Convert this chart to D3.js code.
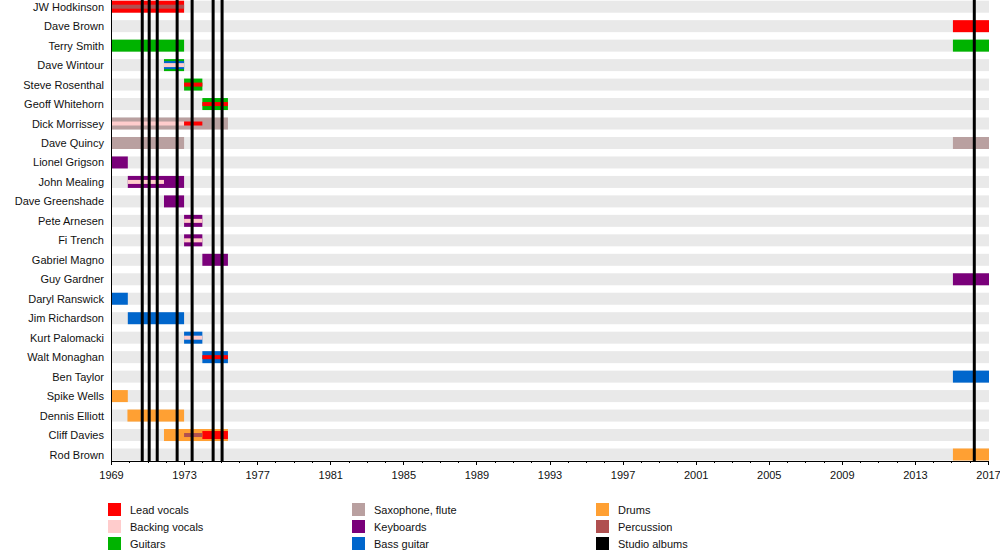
<!DOCTYPE html>
<html>
<head>
    <title>If - members timeline</title>
    <script src="https://d3js.org/d3.v7.min.js"></script>
    <style>
        body { margin: 0; background: #fff; }
        text { font-family: "Liberation Sans", Arial, sans-serif; font-size: 11px; fill: #111; }
        .axis path, .axis line { stroke: #000; shape-rendering: crispEdges; }
        .axis text { font-size: 11px; fill: #111; }
    </style>
</head>
<body>
<script>
    // band members, top to bottom
    var members = ["JW Hodkinson", "Dave Brown", "Terry Smith", "Dave Wintour", "Steve Rosenthal",
        "Geoff Whitehorn", "Dick Morrissey", "Dave Quincy", "Lionel Grigson", "John Mealing",
        "Dave Greenshade", "Pete Arnesen", "Fi Trench", "Gabriel Magno", "Guy Gardner",
        "Daryl Ranswick", "Jim Richardson", "Kurt Palomacki", "Walt Monaghan", "Ben Taylor",
        "Spike Wells", "Dennis Elliott", "Cliff Davies", "Rod Brown"];

    var roles = ["Lead vocals", "Backing vocals", "Guitars", "Saxophone, flute", "Keyboards",
        "Bass guitar", "Drums", "Percussion", "Studio albums"];
    var roleColors = ["#ff0000", "#ffcccc", "#00b300", "#b9a0a0", "#7a007a",
        "#0066cc", "#ffa033", "#b05050", "#000000"];

    // studio album release dates (decimal years)
    var albums = [1970.71, 1971.09, 1971.53, 1972.62, 1973.44, 1974.59, 1975.08, 2016.25];

    // [member, role, from, to, layer]  layer 0 = main role, 1 = second, 2 = third
    var periods = [
        ["JW Hodkinson", "Lead vocals", 1969, 1973, 0],
        ["JW Hodkinson", "Percussion", 1969, 1973, 2],
        ["Dave Brown", "Lead vocals", 2015.08, 2017, 0],
        ["Terry Smith", "Guitars", 1969, 1973, 0],
        ["Terry Smith", "Guitars", 2015.08, 2017, 0],
        ["Dave Wintour", "Guitars", 1971.9, 1973, 0],
        ["Dave Wintour", "Bass guitar", 1971.9, 1973, 1],
        ["Dave Wintour", "Backing vocals", 1971.9, 1973, 2],
        ["Steve Rosenthal", "Guitars", 1973, 1974, 0],
        ["Steve Rosenthal", "Lead vocals", 1973, 1974, 2],
        ["Geoff Whitehorn", "Guitars", 1974, 1975.4, 0],
        ["Geoff Whitehorn", "Lead vocals", 1974, 1975.4, 2],
        ["Dick Morrissey", "Saxophone, flute", 1969, 1975.4, 0],
        ["Dick Morrissey", "Backing vocals", 1969, 1973, 2],
        ["Dick Morrissey", "Lead vocals", 1973, 1974, 2],
        ["Dave Quincy", "Saxophone, flute", 1969, 1973, 0],
        ["Dave Quincy", "Saxophone, flute", 2015.08, 2017, 0],
        ["Lionel Grigson", "Keyboards", 1969, 1969.92, 0],
        ["John Mealing", "Keyboards", 1969.92, 1973, 0],
        ["John Mealing", "Backing vocals", 1969.92, 1971.9, 2],
        ["Dave Greenshade", "Keyboards", 1971.9, 1973, 0],
        ["Pete Arnesen", "Keyboards", 1973, 1974, 0],
        ["Pete Arnesen", "Backing vocals", 1973, 1974, 2],
        ["Fi Trench", "Keyboards", 1973, 1974, 0],
        ["Fi Trench", "Backing vocals", 1973, 1974, 2],
        ["Gabriel Magno", "Keyboards", 1974, 1975.4, 0],
        ["Guy Gardner", "Keyboards", 2015.08, 2017, 0],
        ["Daryl Ranswick", "Bass guitar", 1969, 1969.92, 0],
        ["Jim Richardson", "Bass guitar", 1969.92, 1973, 0],
        ["Kurt Palomacki", "Bass guitar", 1973, 1974, 0],
        ["Kurt Palomacki", "Backing vocals", 1973, 1974, 2],
        ["Walt Monaghan", "Bass guitar", 1974, 1975.4, 0],
        ["Walt Monaghan", "Lead vocals", 1974, 1975.4, 2],
        ["Ben Taylor", "Bass guitar", 2015.08, 2017, 0],
        ["Spike Wells", "Drums", 1969, 1969.92, 0],
        ["Dennis Elliott", "Drums", 1969.9, 1973, 0],
        ["Cliff Davies", "Drums", 1971.9, 1975.4, 0],
        ["Cliff Davies", "Percussion", 1973, 1974, 2],
        ["Cliff Davies", "Lead vocals", 1974, 1975.4, 1],
        ["Rod Brown", "Drums", 2015.08, 2017, 0]
    ];

    var width = 1000, height = 560;
    var left = 111, right = 988, axisY = 461;
    var barH = [12, 8, 4];

    var svg = d3.select("body").append("svg")
        .attr("width", width)
        .attr("height", height);

    var x = d3.scaleLinear().domain([1969, 2017]).range([left, right]);
    var y = d3.scalePoint().domain(members).range([6.7, 454.5]);
    var color = d3.scaleOrdinal().domain(roles).range(roleColors);

    // grey row backgrounds
    svg.append("g").selectAll("rect")
        .data(members)
        .enter().append("rect")
        .attr("x", left)
        .attr("y", d => y(d) - barH[0] / 2)
        .attr("width", right - left + 1)
        .attr("height", barH[0])
        .attr("fill", "#e9e9e9");

    // member names
    svg.append("g").selectAll("text")
        .data(members)
        .enter().append("text")
        .attr("x", 104)
        .attr("y", d => y(d) + 4)
        .attr("text-anchor", "end")
        .text(d => d);

    // bars, main roles first, then the thinner stripes on top
    var sorted = periods.slice().sort((a, b) => a[4] - b[4]);
    svg.append("g").selectAll("rect")
        .data(sorted)
        .enter().append("rect")
        .attr("x", d => x(d[2]))
        .attr("y", d => y(d[0]) - barH[d[4]] / 2)
        .attr("width", d => x(d[3]) - x(d[2]) + (d[3] === 2017 ? 1 : 0))
        .attr("height", d => barH[d[4]])
        .attr("fill", d => color(d[1]));

    // studio album lines
    svg.append("g").selectAll("line")
        .data(albums)
        .enter().append("line")
        .attr("x1", d => x(d))
        .attr("x2", d => x(d))
        .attr("y1", 0)
        .attr("y2", axisY)
        .attr("stroke", "#000")
        .attr("stroke-width", 3);

    // left axis line
    svg.append("line")
        .attr("x1", left).attr("x2", left)
        .attr("y1", 0).attr("y2", axisY)
        .attr("stroke", "#000")
        .attr("shape-rendering", "crispEdges");

    // minor ticks every year
    svg.append("g")
        .attr("class", "axis")
        .attr("transform", "translate(0," + axisY + ")")
        .call(d3.axisBottom(x).tickValues(d3.range(1969, 2018, 1)).tickSize(2).tickSizeOuter(0).tickFormat(""));

    // major ticks every four years
    svg.append("g")
        .attr("class", "axis")
        .attr("transform", "translate(0," + axisY + ")")
        .call(d3.axisBottom(x).tickValues(d3.range(1969, 2018, 4)).tickSize(4).tickSizeOuter(0).tickFormat(d3.format("d")))
        .call(g => g.selectAll("text").attr("y", 8).attr("dy", "0.95em"));

    // legend
    var legendCols = [108, 352, 596];
    var legend = svg.append("g").selectAll("g")
        .data(roles)
        .enter().append("g")
        .attr("transform", (d, i) => "translate(" + legendCols[Math.floor(i / 3)] + "," + (503 + (i % 3) * 17) + ")");

    legend.append("rect")
        .attr("width", 13)
        .attr("height", 13)
        .attr("fill", d => color(d));

    legend.append("text")
        .attr("x", 22)
        .attr("y", 10.5)
        .text(d => d);
</script>
</body>
</html>
